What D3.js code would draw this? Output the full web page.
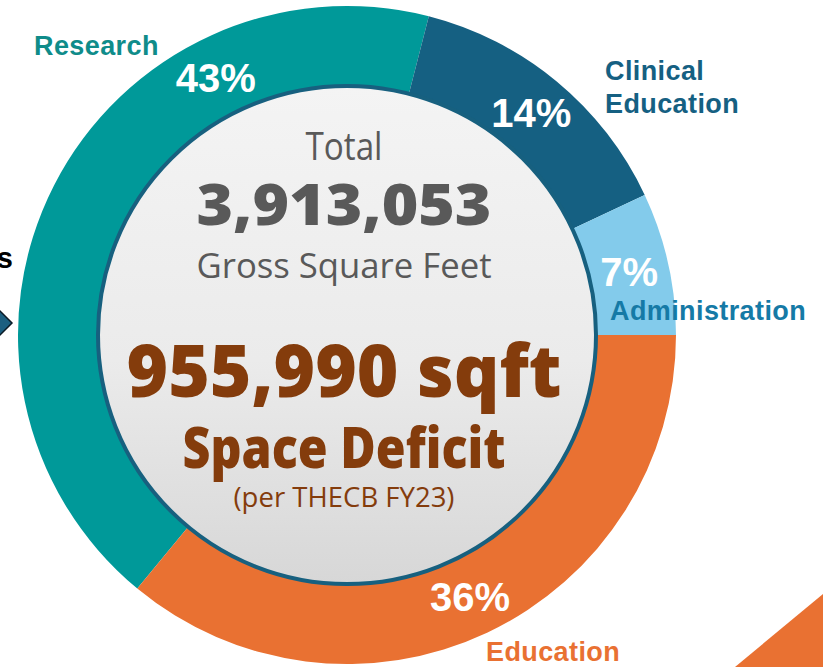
<!DOCTYPE html>
<html>
<head>
<meta charset="utf-8">
<script src="https://d3js.org/d3.v7.min.js"></script>
<style>
  body { margin: 0; background: #fff; }
</style>
</head>
<body>
<div id="chart"></div>
<script>
// space use by category (percent of total gross square feet)
var categories = ["Research", "Clinical Education", "Administration", "Education"];
var shares = [43, 14, 7, 36];
var totalGsf = 3913053;
var deficit = 955990;

var width = 823,
  height = 667,
  cx = 347, cy = 335,
  outerR = 329, innerR = 249,
  colors = ["#009999", "#156082", "#83CBEB", "#E97132"],
  labelColors = ["#0F8C8A", "#156082", "#157AA6", "#E97132"];

// where the outside names sit, relative to the centre
var namePos = [
  { dx: -313, dy: -280, lines: ["Research"] },
  { dx: 258, dy: -255, lines: ["Clinical", "Education"] },
  { dx: 263, dy: -15, lines: ["Administration"] },
  { dx: 139, dy: 326, lines: ["Education"] }
];
// Research percent is pushed round towards the top
var pctShift = [36, 0, 0, 0];

var svg = d3.select("#chart").append("svg")
  .attr("width", width)
  .attr("height", height);

var defs = svg.append("defs");
var grad = defs.append("linearGradient")
  .attr("id", "hub")
  .attr("x1", 0).attr("y1", 0).attr("x2", 0).attr("y2", 1);
grad.append("stop").attr("offset", "0%").attr("stop-color", "#f4f4f4");
grad.append("stop").attr("offset", "55%").attr("stop-color", "#ebebeb");
grad.append("stop").attr("offset", "100%").attr("stop-color", "#d7d7d7");

// decoration bits cut off at the page edges
svg.append("path")
  .attr("d", "M735,667 L823,594 L823,667 Z")
  .attr("fill", "#E97132");
svg.append("text")
  .attr("x", 13).attr("y", 268)
  .attr("text-anchor", "end")
  .attr("font-family", "Liberation Sans, Arial, sans-serif")
  .attr("font-weight", "bold")
  .attr("font-size", 29)
  .attr("fill", "#000")
  .text("s");
svg.append("path")
  .attr("d", "M-12,323 L0,311 L12,323 L0,335 Z")
  .attr("fill", "#1C5F80")
  .attr("stroke", "#0b1b26")
  .attr("stroke-width", 1.5);

var start = Math.PI / 2 - 2 * Math.PI * (shares[0] + shares[1] + shares[2]) / d3.sum(shares);
var pie = d3.pie()
  .sort(null)
  .value(function (d) { return d; })
  .startAngle(start)
  .endAngle(start + 2 * Math.PI);

var arc = d3.arc().innerRadius(innerR).outerRadius(outerR);
var mid = (innerR + outerR) / 2;

var g = svg.append("g")
  .attr("transform", "translate(" + cx + "," + cy + ")");

var arcs = pie(shares);

g.selectAll("path.slice")
  .data(arcs)
  .enter()
  .append("path")
  .attr("class", "slice")
  .attr("d", arc)
  .attr("fill", function (d, i) { return colors[i]; });

// centre disc
g.append("circle")
  .attr("r", innerR)
  .attr("fill", "url(#hub)")
  .attr("stroke", "#17607F")
  .attr("stroke-width", 4);

// percent labels
g.selectAll("text.pct")
  .data(arcs)
  .enter()
  .append("text")
  .attr("class", "pct")
  .attr("transform", function (d, i) {
    var a = (d.startAngle + d.endAngle) / 2 + pctShift[i] * Math.PI / 180;
    return "translate(" + (mid * Math.sin(a)) + "," + (-mid * Math.cos(a)) + ")";
  })
  .attr("dy", "0.36em")
  .attr("text-anchor", "middle")
  .attr("font-family", "Liberation Sans, Arial, sans-serif")
  .attr("font-weight", "bold")
  .attr("font-size", 40)
  .attr("fill", "#fff")
  .text(function (d) { return d.data + "%"; });

// category names outside the ring
var names = g.selectAll("text.name")
  .data(categories)
  .enter()
  .append("text")
  .attr("class", "name")
  .attr("font-family", "Liberation Sans, Arial, sans-serif")
  .attr("font-weight", "bold")
  .attr("font-size", 27)
  .attr("letter-spacing", 0.4)
  .attr("fill", function (d, i) { return labelColors[i]; });

names.each(function (d, i) {
  var t = d3.select(this);
  namePos[i].lines.forEach(function (line, k) {
    t.append("tspan")
      .attr("x", namePos[i].dx)
      .attr("y", namePos[i].dy + k * 33)
      .text(line);
  });
});

// centre text
var fmt = d3.format(",");
var centre = [
  { text: "Total", y: -175, size: 38, weight: "normal", color: "#595959", w: 77 },
  { text: fmt(totalGsf), y: -110, size: 57, weight: 800, color: "#595959", w: 295 },
  { text: "Gross Square Feet", y: -57, size: 35, weight: "normal", color: "#595959", w: 295 },
  { text: fmt(deficit) + " sqft", y: 62, size: 73, weight: 800, color: "#843C0C", w: 435 },
  { text: "Space Deficit", y: 133, size: 57, weight: 800, color: "#843C0C", w: 323 },
  { text: "(per THECB FY23)", y: 172, size: 28, weight: "normal", color: "#843C0C", w: 221 }
];

g.selectAll("text.centre")
  .data(centre)
  .enter()
  .append("text")
  .attr("class", "centre")
  .attr("x", -3)
  .attr("y", function (d) { return d.y; })
  .attr("text-anchor", "middle")
  .attr("font-family", "Open Sans, Noto Sans, sans-serif")
  .attr("font-weight", function (d) { return d.weight; })
  .attr("font-size", function (d) { return d.size; })
  .attr("fill", function (d) { return d.color; })
  .attr("textLength", function (d) { return d.w; })
  .attr("lengthAdjust", "spacingAndGlyphs")
  .text(function (d) { return d.text; });
</script>
</body>
</html>
